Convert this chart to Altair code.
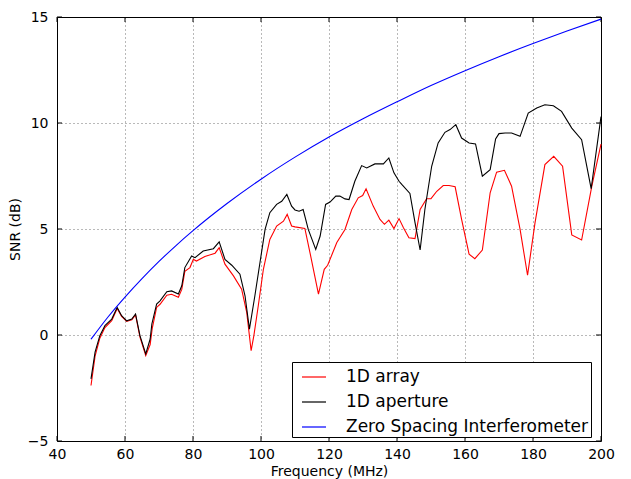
import altair as alt
import pandas as pd

# ---- data ----
freq_array = [50.0, 51.2, 52.6, 54.1, 56.1, 57.7, 59.0, 60.5, 62.0, 63.1, 64.4, 66.1, 67.4, 68.0,
              69.3, 70.3, 72.3, 73.7, 75.7, 76.7, 77.6, 79.1, 80.1, 81.0, 83.5, 86.5, 87.7, 89.4,
              91.9, 94.3, 95.8, 97.1, 97.9, 99.2, 100.7, 102.6, 104.6, 106.6, 107.7, 109.0, 110.0,
              112.9, 114.4, 116.9, 118.6, 119.6, 122.3, 124.7, 126.7, 128.6, 129.9, 130.9, 133.0,
              135.0, 136.3, 137.6, 139.1, 140.6, 141.9, 143.5, 145.3, 146.8, 148.7, 150.0, 151.7,
              153.6, 155.3, 157.1, 159.0, 161.2, 162.9, 165.1, 167.4, 169.3, 171.6, 173.7, 176.2,
              178.4, 180.6, 183.5, 186.1, 188.7, 191.4, 194.3, 197.3, 200.0]
snr_array = [-2.38, -1.0, -0.15, 0.35, 0.68, 1.25, 0.88, 0.64, 0.72, 0.95, -0.1, -0.97, -0.45, 0.3,
             1.3, 1.45, 1.88, 1.92, 1.78, 2.15, 3.0, 3.18, 3.57, 3.49, 3.7, 3.86, 4.12, 3.34,
             2.79, 2.16, 1.07, -0.74, -0.03, 1.38, 3.1, 4.51, 5.14, 5.37, 5.69, 5.14, 5.1,
             5.03, 3.89, 1.93, 3.1, 3.29, 4.36, 4.98, 5.92, 6.47, 6.58, 6.9, 6.08,
             5.45, 5.22, 5.42, 5.02, 5.49, 5.06, 4.59, 4.55, 5.92, 6.43, 6.43, 6.78,
             7.05, 7.05, 6.99, 5.45, 3.81, 3.6, 4.01, 6.71, 7.68, 7.77, 7.02, 4.98,
             2.82, 5.3, 8.04, 8.43, 7.96, 4.72, 4.48, 7.02, 9.0]

freq_aperture = [50.0, 51.2, 52.6, 54.1, 56.1, 57.7, 59.0, 60.5, 62.0, 63.1, 64.4, 66.1, 67.4, 67.9,
                 69.3, 70.3, 72.3, 73.7, 75.7, 76.7, 77.6, 79.6, 80.6, 83.0, 86.0, 87.7, 89.4,
                 91.4, 93.8, 95.3, 96.6, 98.2, 99.7, 101.2, 102.6, 104.6, 106.1, 107.6, 109.0,
                 110.0, 111.2, 112.4, 113.9, 116.1, 117.4, 119.0, 120.3, 122.0, 123.2, 124.7,
                 125.9, 127.6, 129.6, 131.1, 133.5, 136.0, 137.6, 139.1, 140.6, 141.4, 143.8,
                 145.3, 146.8, 148.2, 150.2, 152.1, 154.1, 155.6, 157.3, 159.0, 161.2, 163.1,
                 165.1, 167.4, 169.0, 170.0, 171.8, 173.7, 176.2, 178.6, 181.1, 183.5, 186.0,
                 188.4, 191.4, 194.3, 197.1, 200.0]
snr_aperture = [-2.07, -0.81, -0.03, 0.44, 0.75, 1.3, 0.91, 0.67, 0.75, 0.99, -0.03, -0.89, -0.19, 0.52,
                1.46, 1.61, 2.04, 2.08, 1.93, 2.32, 3.18, 3.73, 3.65, 3.96, 4.07, 4.39, 3.57,
                3.29, 2.87, 1.85, 0.28, 1.85, 3.42, 4.98, 5.77, 6.16, 6.31, 6.63, 6.08,
                5.9, 5.84, 5.92, 4.98, 4.04, 4.67, 6.16, 6.27, 6.55, 6.55, 6.42,
                6.39, 7.25, 7.99, 7.88, 8.07, 8.07, 8.35, 7.65, 7.25, 7.1, 6.68,
                5.3, 4.01, 5.92, 7.96, 9.06, 9.56, 9.69, 9.92, 9.29, 9.06, 9.01,
                7.49, 7.8, 9.25, 9.5, 9.53, 9.53, 9.37, 10.47, 10.71, 10.86, 10.81,
                10.55, 9.76, 9.21, 6.9, 10.3]

freq_zero = [50, 55, 60, 65, 70, 75, 80, 90, 100, 110, 120, 130, 140, 150, 160, 170, 180, 190, 200]
snr_zero = [-0.2, 0.85, 1.79, 2.66, 3.47, 4.22, 4.92, 6.2, 7.35, 8.39, 9.34, 10.2, 11.0, 11.77,
            12.47, 13.13, 13.75, 14.34, 14.9]

series_names = ["1D array", "1D aperture", "Zero Spacing Interferometer"]
series_colors = ["#ff0000", "#000000", "#0000ff"]
x_ticks = [40, 60, 80, 100, 120, 140, 160, 180, 200]
y_ticks = [-5, 0, 5, 10, 15]

df_lines = pd.concat([
    pd.DataFrame({"f": freq_array, "snr": snr_array, "series": series_names[0]}),
    pd.DataFrame({"f": freq_aperture, "snr": snr_aperture, "series": series_names[1]}),
])
df_zero = pd.DataFrame({"f": freq_zero, "snr": snr_zero, "series": series_names[2]})
df_xt = pd.DataFrame({"t": x_ticks})
df_yt = pd.DataFrame({"t": y_ticks})

W, H = 544, 424
TL = 5
FONT = "DejaVu Sans"

xscale = alt.Scale(domain=[40, 200], nice=False, zero=False)
yscale = alt.Scale(domain=[-5, 15], nice=False, zero=False)
cscale = alt.Scale(domain=series_names, range=series_colors)

xaxis = alt.Axis(values=x_ticks, grid=True, ticks=False, domain=False, labelPadding=6,
                 labelFlush=False, title="Frequency (MHz)", titlePadding=3)
yaxis = alt.Axis(values=y_ticks, grid=True, ticks=False, domain=False, labelPadding=9,
                 labelFlush=False, title="SNR (dB)", titlePadding=5)

legend = alt.Legend(title=None, orient="none", legendX=235, legendY=345, direction="vertical",
                    strokeColor="black", fillColor="white", padding=2, cornerRadius=0,
                    labelFontSize=17, labelFont=FONT, labelColor="black", labelLimit=400,
                    symbolType="stroke", symbolSize=576, symbolStrokeWidth=1.2, symbolOffset=7,
                    rowPadding=4, labelOffset=19, symbolOpacity=1)

color = alt.Color("series:N", scale=cscale, legend=legend, sort=series_names)

lines = alt.Chart(df_lines).mark_line(strokeWidth=1.1).encode(
    x=alt.X("f:Q", scale=xscale, axis=xaxis),
    y=alt.Y("snr:Q", scale=yscale, axis=yaxis),
    color=color,
    detail="series:N",
)
zero = alt.Chart(df_zero).mark_line(strokeWidth=1.1, interpolate="monotone").encode(
    x=alt.X("f:Q", scale=xscale),
    y=alt.Y("snr:Q", scale=yscale),
    color=color,
)

tick_x_bottom = alt.Chart(df_xt).mark_rule(color="black").encode(
    x=alt.X("t:Q", scale=xscale), y=alt.value(H), y2=alt.value(H - TL))
tick_x_top = alt.Chart(df_xt).mark_rule(color="black").encode(
    x=alt.X("t:Q", scale=xscale), y=alt.value(0), y2=alt.value(TL))
tick_y_left = alt.Chart(df_yt).mark_rule(color="black").encode(
    y=alt.Y("t:Q", scale=yscale), x=alt.value(0), x2=alt.value(TL))
tick_y_right = alt.Chart(df_yt).mark_rule(color="black").encode(
    y=alt.Y("t:Q", scale=yscale), x=alt.value(W - TL), x2=alt.value(W))

chart = alt.layer(
    tick_x_bottom, tick_x_top, tick_y_left, tick_y_right, lines, zero
).properties(
    width=W, height=H,
    autosize=alt.AutoSizeParams(type="none"),
    padding={"left": 49, "top": 9, "right": 22, "bottom": 38},
).configure(
    font=FONT,
    background="white",
).configure_view(
    stroke="black", strokeWidth=1,
).configure_axis(
    labelFont=FONT, labelFontSize=14, labelColor="black",
    titleFont=FONT, titleFontSize=14, titleFontWeight="normal", titleColor="black",
    gridColor="#000000", gridDash=[1, 3], gridOpacity=0.55, gridWidth=1,
)

chart.save("out.html", embed_options={"renderer": "svg", "actions": False})
